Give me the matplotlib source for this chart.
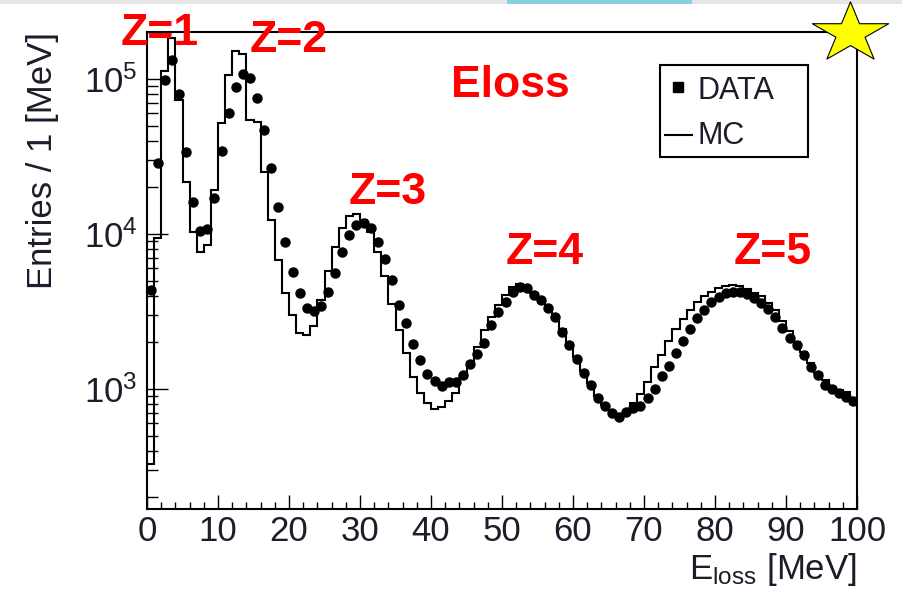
import numpy as np
import matplotlib
matplotlib.use("Agg")
import matplotlib.pyplot as plt
from matplotlib.ticker import MultipleLocator, LogLocator, NullFormatter, FixedLocator
from matplotlib.lines import Line2D
from matplotlib.patches import Rectangle
from matplotlib.path import Path

plt.rcParams['font.family'] = ['Liberation Sans', 'DejaVu Sans']
plt.rcParams['mathtext.fontset'] = 'custom'
plt.rcParams['mathtext.rm'] = 'Liberation Sans Narrow'
plt.rcParams['mathtext.it'] = 'Liberation Sans Narrow:italic'
plt.rcParams['mathtext.default'] = 'regular'

NARROW = ['Liberation Sans Narrow', 'Liberation Sans', 'DejaVu Sans']

# ---------------- data ----------------
bin_edges = np.arange(0, 101, 1)          # 1 MeV bins, 0..100 MeV
bin_centers = bin_edges[:-1] + 0.5

data_counts = [
    4350, 28600, 98600, 133000, 79600, 34000, 16100, 10400, 10800, 17100,
    34300, 60000, 89000, 107000, 101000, 75800, 46900, 26500, 15000, 8840,
    5660, 4140, 3350, 3200, 3430, 4250, 5570, 7690, 9860, 11400,
    11800, 10900, 8920, 6870, 5050, 3480, 2650, 1950, 1540, 1240,
    1130, 1050, 1110, 1110, 1230, 1450, 1680, 1990, 2590, 3150,
    3660, 4250, 4530, 4470, 4040, 3750, 3310, 2930, 2340, 1920,
    1560, 1270, 1060, 871, 777, 703, 663, 714, 750, 777,
    871, 995, 1210, 1410, 1710, 2050, 2430, 2860, 3240, 3660,
    3940, 4140, 4250, 4250, 4100, 3850, 3570, 3270, 2900, 2460,
    2120, 1920, 1660, 1390, 1230, 1060, 995, 938, 892, 841,
]

mc_counts = [
    330, 9400, 113000, 184000, 73000, 21700, 10300, 7620, 8490, 19200,
    51800, 106000, 152000, 144000, 54400, 52800, 25100, 12300, 6800, 4160,
    3000, 2290, 2230, 2550, 3750, 5800, 8280, 11000, 13100, 13400,
    12300, 10300, 7700, 5360, 3510, 2400, 1700, 1200, 937, 816,
    740, 769, 837, 937, 1180, 1500, 1860, 2400, 2930, 3480,
    4040, 4530, 4760, 4570, 4180, 3790, 3370, 2930, 2430, 1990,
    1600, 1310, 1090, 902, 788, 703, 640, 700, 809, 929,
    1110, 1390, 1650, 2050, 2450, 2830, 3240, 3660, 3950, 4250,
    4470, 4630, 4690, 4600, 4400, 4150, 3950, 3570, 3250, 2750,
    2350, 2020, 1740, 1460, 1260, 1140, 1030, 990, 950, 800,
]

peak_labels = ["Z=1", "Z=2", "Z=3", "Z=4", "Z=5"]
legend_labels = ["DATA", "MC"]
y_major = [1e3, 1e4, 1e5]
y_major_labels = [r"$10^{3}$", r"$10^{4}$", r"$10^{5}$"]

# ---------------- figure ----------------
W, H = 902, 593
fig = plt.figure(figsize=(W / 100, H / 100), dpi=100)

def fx(px):
    return px / W

def fy(py):
    return 1 - py / H

# slide remnants at the top edge
fig.patches.append(Rectangle((0, fy(3.5)), 1, 3.5 / H, transform=fig.transFigure,
                             facecolor='#e6e6e6', edgecolor='none', zorder=0))
fig.patches.append(Rectangle((fx(507), fy(3.5)), (692 - 507) / W, 3.5 / H,
                             transform=fig.transFigure, facecolor='#86d0e0',
                             edgecolor='none', zorder=0))

ax = fig.add_axes([fx(147), fy(509), (857 - 147) / W, (509 - 32) / H])
ax.set_yscale('log')
ax.set_xlim(0, 100)
ax.set_ylim(168, 2.01e5)

ax.stairs(mc_counts, bin_edges, baseline=None, color='black', lw=1.5, zorder=2)
ax.plot(bin_centers, data_counts, linestyle='none', marker='o', ms=6.5,
        color='black', zorder=3)

for sp in ax.spines.values():
    sp.set_linewidth(1.5)

txtcol = '#1c1c2a'
ax.xaxis.set_major_locator(MultipleLocator(10))
ax.xaxis.set_minor_locator(MultipleLocator(2))
ax.yaxis.set_major_locator(FixedLocator(y_major))
ax.set_yticklabels(y_major_labels)
ax.yaxis.set_minor_locator(LogLocator(base=10, subs=np.arange(2, 10), numticks=20))
ax.yaxis.set_minor_formatter(NullFormatter())
ax.tick_params(which='both', direction='in', top=False, right=False,
               colors='black', labelcolor=txtcol, labelsize=25, width=1.0)
ax.tick_params(axis='x', which='major', length=10, pad=4)
ax.tick_params(axis='x', which='minor', length=5)
ax.tick_params(axis='y', which='major', length=15, pad=7)
ax.tick_params(axis='y', which='minor', length=8)
for lab in ax.get_xticklabels() + ax.get_yticklabels():
    lab.set_family(NARROW)

ax.set_xlabel(r"E$_{\mathregular{loss}}$ [MeV]", loc='right', fontsize=25,
              color=txtcol, family=NARROW)
ax.xaxis.set_label_coords(1.0, -0.088)
ax.set_ylabel("Entries / 1 [MeV]", loc='top', fontsize=25, color=txtcol)
ax.yaxis.set_label_coords(-0.124, 1.0)

# ---------------- legend box (drawn by hand, ROOT style) ----------------
fig.patches.append(Rectangle((fx(660), fy(157)), (808 - 660) / W, (157 - 65) / H,
                             transform=fig.transFigure, facecolor='white',
                             edgecolor='black', lw=1.5, zorder=5))
fig.add_artist(Line2D([fx(677.5)], [fy(87)], marker='s', ms=7, color='black',
                      linestyle='none', transform=fig.transFigure, zorder=6))
fig.add_artist(Line2D([fx(665), fx(692)], [fy(135), fy(135)], color='black',
                      lw=1.5, transform=fig.transFigure, zorder=6))
fig.text(fx(697), fy(99), legend_labels[0], fontsize=22, color=txtcol,
         ha='left', va='baseline', zorder=6, family=NARROW)
fig.text(fx(697), fy(144), legend_labels[1], fontsize=22, color=txtcol,
         ha='left', va='baseline', zorder=6, family=NARROW)

# ---------------- red annotations ----------------
red = '#ff0000'
ann = [(peak_labels[0], 160, 45), (peak_labels[1], 289, 52), ("Eloss", 510, 97),
       (peak_labels[2], 388, 204), (peak_labels[3], 545, 264), (peak_labels[4], 773, 264)]
for s, x, y in ann:
    fig.text(fx(x), fy(y), s, color=red, fontsize=32, fontweight='bold',
             ha='center', va='baseline', zorder=7)

# ---------------- star ----------------
star = Path.unit_regular_star(5, innerCircle=0.382)
verts = star.vertices.copy()
verts[:, 0] *= 1.27
star_path = Path(verts, star.codes)
fig.add_artist(Line2D([fx(850)], [fy(33)], marker=star_path, ms=55,
                      markerfacecolor='#ffff00', markeredgecolor='black',
                      markeredgewidth=0.8, linestyle='none',
                      transform=fig.transFigure, zorder=8))

fig.savefig("out.png", dpi=100)
